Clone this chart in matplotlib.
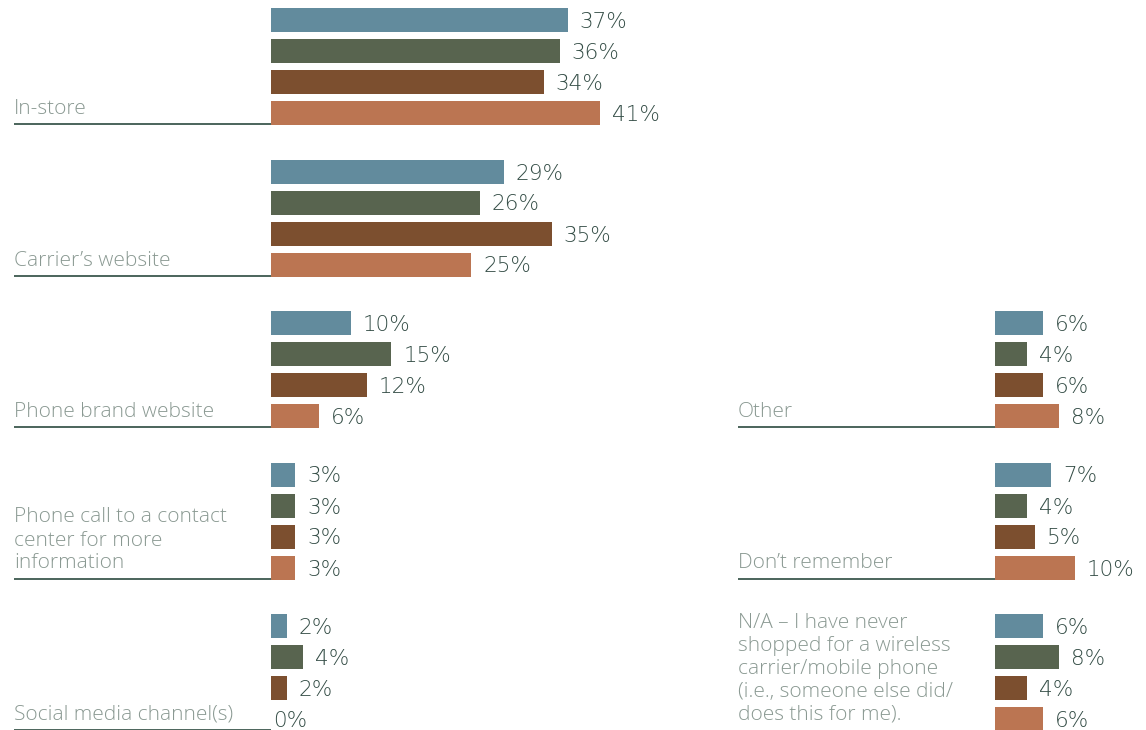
import matplotlib
matplotlib.use("Agg")
import matplotlib.pyplot as plt

# Survey responses: where people shopped for a wireless carrier / mobile phone
left_categories = [
    "In-store",
    "Carrier\u2019s website",
    "Phone brand website",
    "Phone call to a contact\ncenter for more\ninformation",
    "Social media channel(s)",
]
right_categories = [
    "Other",
    "Don\u2019t remember",
    "N/A \u2013 I have never\nshopped for a wireless\ncarrier/mobile phone\n(i.e., someone else did/\ndoes this for me).",
]

# Four respondent segments, one value per category (percent)
left_series = [
    [37, 29, 10, 3, 2],
    [36, 26, 15, 3, 4],
    [34, 35, 12, 3, 2],
    [41, 25, 6, 3, 0],
]
right_series = [
    [6, 7, 6],
    [4, 4, 8],
    [6, 5, 4],
    [8, 10, 6],
]

colors = ["#628b9d", "#58644f", "#7c4f2f", "#bb7552"]
label_color = "#8a9992"
value_color = "#344d46"
rule_color = "#2c4a3f"

LABEL_FONT = ["Open Sans", "DejaVu Sans"]
VALUE_FONT = ["DejaVu Sans"]

W, H = 1146, 730
fig = plt.figure(figsize=(W / 100, H / 100), dpi=100)

PX_PER_PCT = 8.02
LABEL_W = 257          # pixels from label start to bar origin
GROUP_PITCH = 151.5
BAR_PITCH = 31
FIRST = 20
BAR_H = 24


def panel(x0, width, categories, series, row_offset, rules):
    ax = fig.add_axes([x0 / W, 0, width / W, 1])
    ax.set_xlim(-LABEL_W / PX_PER_PCT, (width - LABEL_W) / PX_PER_PCT)
    ax.set_ylim(H, 0)
    ax.axis("off")
    x_label = -LABEL_W / PX_PER_PCT
    for i, cat in enumerate(categories):
        g = i + row_offset
        ys = [FIRST + g * GROUP_PITCH + j * BAR_PITCH for j in range(len(series))]
        for j, vals in enumerate(series):
            v = vals[i]
            ax.barh(ys[j], v, height=BAR_H, color=colors[j], linewidth=0)
            dx = 8.6 if v > 0 else 1.5
            ax.annotate(f"{v}%", (v, ys[j]), xytext=(dx, 0),
                        textcoords="offset points", va="center_baseline",
                        ha="left", fontsize=15.5, color=value_color,
                        family=VALUE_FONT, fontweight="light")
        rule_y = ys[-1] + BAR_H / 2 - 1
        if rules[i]:
            ax.plot([x_label, 0], [rule_y, rule_y], color=rule_color,
                    linewidth=1.2, solid_capstyle="butt", clip_on=False)
        ax.text(x_label, rule_y - 5, cat, ha="left", va="bottom",
                fontsize=15, color=label_color, family=LABEL_FONT,
                fontweight="light", linespacing=1.2)
    return ax


panel(14, 700, left_categories, left_series, 0, [True] * 5)
panel(738, W - 738, right_categories, right_series, 2, [True, True, False])

fig.savefig("out.png", dpi=100)
